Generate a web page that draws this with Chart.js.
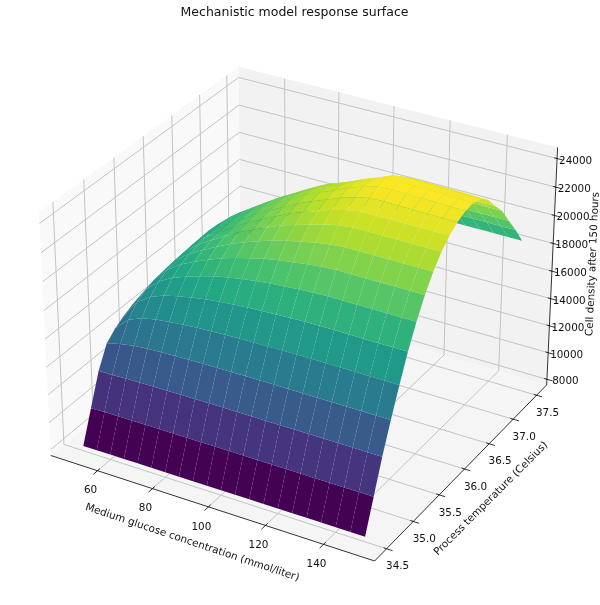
<!DOCTYPE html>
<html>
<head>
<meta charset="utf-8">
<title>Mechanistic model response surface</title>
<script src="https://cdn.jsdelivr.net/npm/chart.js@4"></script>
<style>
  html, body { margin: 0; padding: 0; background: #fff; }
  canvas { display: block; }
</style>
</head>
<body>
<canvas id="myChart" width="600" height="605"></canvas>
<script>
const glucose = [50, 55, 60, 65, 70, 75, 80, 85, 90, 95, 100, 105, 110, 115, 120, 125, 130, 135, 140, 145, 150];
const temperature = [34.5, 34.65, 34.8, 34.95, 35.1, 35.25, 35.4, 35.55, 35.7, 35.85, 36, 36.15, 36.3, 36.45, 36.6, 36.75, 36.9, 37.05, 37.2, 37.35, 37.5];
// one row per temperature, one value per glucose
const density = [
  [7930, 7940, 7950, 7950, 7950, 7950, 7950, 7950, 7950, 7950, 7950, 7950, 7950, 7950, 7950, 7950, 7950, 7950, 7950, 7950, 7950],
  [10160, 10200, 10210, 10215, 10220, 10220, 10220, 10220, 10220, 10220, 10220, 10220, 10220, 10220, 10220, 10220, 10220, 10220, 10220, 10220, 10220],
  [12360, 12355, 12410, 12433, 12445, 12455, 12465, 12470, 12475, 12478, 12480, 12480, 12480, 12480, 12480, 12480, 12480, 12480, 12480, 12480, 12480],
  [13830, 14070, 14250, 14335, 14380, 14415, 14440, 14460, 14475, 14485, 14495, 14500, 14505, 14510, 14510, 14510, 14510, 14510, 14510, 14510, 14510],
  [14400, 15300, 15710, 15915, 16030, 16125, 16200, 16250, 16295, 16325, 16350, 16365, 16385, 16395, 16400, 16400, 16400, 16400, 16400, 16400, 16400],
  [14800, 16050, 16730, 17110, 17350, 17545, 17705, 17825, 17915, 18000, 18050, 18095, 18135, 18165, 18180, 18180, 18180, 18180, 18180, 18180, 18180],
  [15100, 16450, 17335, 17875, 18240, 18555, 18830, 19030, 19205, 19355, 19460, 19545, 19630, 19685, 19720, 19720, 19720, 19720, 19720, 19720, 19720],
  [15330, 16665, 17685, 18340, 18805, 19225, 19620, 19910, 20180, 20420, 20590, 20735, 20880, 20980, 21040, 21040, 21040, 21040, 21040, 21040, 21040],
  [15500, 16765, 17870, 18610, 19150, 19660, 20140, 20525, 20880, 21210, 21460, 21665, 21880, 22035, 22130, 22130, 22130, 22130, 22130, 22130, 22130],
  [15630, 16845, 17975, 18765, 19360, 19920, 20485, 20930, 21360, 21770, 22085, 22360, 22655, 22870, 23000, 23000, 23000, 23000, 23000, 23000, 23000],
  [15730, 16853, 18040, 18870, 19480, 20090, 20680, 21175, 21660, 22130, 22505, 22830, 23190, 23455, 23620, 23620, 23620, 23620, 23620, 23620, 23620],
  [15830, 16885, 18075, 18910, 19545, 20180, 20805, 21330, 21855, 22365, 22780, 23150, 23555, 23865, 24080, 24120, 24100, 24090, 24080, 24070, 24060],
  [15900, 16900, 18100, 18950, 19590, 20240, 20880, 21430, 21965, 22515, 22950, 23345, 23785, 24125, 24400, 24470, 24440, 24420, 24390, 24360, 24340],
  [15950, 16880, 18050, 18900, 19540, 20180, 20820, 21370, 21920, 22450, 22880, 23280, 23730, 24100, 24480, 24550, 24520, 24500, 24470, 24440, 24420],
  [15960, 16780, 17900, 18700, 19350, 19990, 20620, 21160, 21720, 22250, 22660, 23050, 23480, 23850, 24260, 24330, 24300, 24280, 24250, 24220, 24200],
  [15900, 16700, 17650, 18435, 19080, 19680, 20280, 20840, 21390, 21900, 22260, 22640, 23000, 23380, 23750, 23820, 23790, 23770, 23740, 23715, 23700],
  [15400, 16200, 17150, 17930, 18580, 19180, 19780, 20340, 20890, 21400, 21760, 22140, 22500, 22700, 22860, 22900, 22880, 22860, 22850, 22830, 22820],
  [14900, 15700, 16650, 17430, 18080, 18680, 19280, 19840, 20390, 20900, 21260, 21560, 21770, 21920, 22040, 22060, 22050, 22040, 22030, 22020, 22010],
  [14400, 15200, 16150, 16900, 17500, 18100, 18700, 19200, 19600, 19950, 20250, 20500, 20680, 20790, 20850, 20860, 20860, 20850, 20850, 20840, 20840],
  [13900, 14700, 15600, 16300, 16850, 17400, 17950, 18400, 18750, 19050, 19300, 19480, 19620, 19700, 19730, 19730, 19730, 19730, 19730, 19730, 19730],
  [13400, 14100, 14950, 15600, 16100, 16600, 17050, 17450, 17750, 17950, 18120, 18270, 18380, 18450, 18490, 18490, 18490, 18490, 18490, 18490, 18490]
];
const xTicks = [60, 80, 100, 120, 140];
const yTicks = [34.5, 35, 35.5, 36, 36.5, 37, 37.5];
const yTickLabels = ['34.5', '35.0', '35.5', '36.0', '36.5', '37.0', '37.5'];
const zTicks = [8000, 10000, 12000, 14000, 16000, 18000, 20000, 22000, 24000];
const viridis = ['#440154', '#482475', '#414487', '#355f8d', '#2a788e', '#21918c', '#22a884', '#44bf70', '#7ad151', '#bddf26', '#fde725'];

// axis limits of the 3d box
const xLim = [42.7, 157.3];
const yLim = [34.28, 37.72];
const zLim = [7580, 24775];

// same camera as a default mplot3d axes: elev 30, azim -60, dist 10, box 4:4:3
const boxX = 0.5952, boxY = 0.5952, boxZ = 0.4464;
function project(x, y, z) {
  const dx = boxX * (2 * (x - xLim[0]) / (xLim[1] - xLim[0]) - 1);
  const dy = boxY * (2 * (y - yLim[0]) / (yLim[1] - yLim[0]) - 1);
  const dz = boxZ * (2 * (z - zLim[0]) / (zLim[1] - zLim[0]) - 1);
  const near = 0.433 * dx - 0.75 * dy + 0.5 * dz;
  return {
    x: (0.866 * dx + 0.5 * dy) / (10 - near),
    y: (-0.25 * dx + 0.433 * dy + 0.866 * dz) / (10 - near),
    near: near
  };
}

function viridisAt(t) {
  const p = Math.min(Math.max(t, 0), 1) * (viridis.length - 1);
  const k = Math.min(Math.floor(p), viridis.length - 2);
  const a = parseInt(viridis[k].slice(1), 16), b = parseInt(viridis[k + 1].slice(1), 16);
  const mix = s => Math.round(((a >> s) & 255) * (1 + k - p) + ((b >> s) & 255) * (p - k));
  return `rgb(${mix(16)},${mix(8)},${mix(0)})`;
}

function lineSet(points, color, width) {
  return {
    data: points.map(p => project(p[0], p[1], p[2])),
    showLine: true, fill: false, borderColor: color, borderWidth: width,
    pointRadius: 0, tension: 0, borderCapStyle: 'butt'
  };
}
function shapeSet(points, color) {
  return {
    data: points.map(p => project(p[0], p[1], p[2])),
    showLine: true, fill: 'shape', backgroundColor: color, borderWidth: 0,
    pointRadius: 0, tension: 0
  };
}

// surface cells, coloured by their mean height
const cells = [];
for (let j = 0; j < temperature.length - 1; j++) {
  for (let i = 0; i < glucose.length - 1; i++) {
    const corners = [
      [glucose[i], temperature[j], density[j][i]],
      [glucose[i + 1], temperature[j], density[j][i + 1]],
      [glucose[i + 1], temperature[j + 1], density[j + 1][i + 1]],
      [glucose[i], temperature[j + 1], density[j + 1][i]]
    ];
    const mean = corners.reduce((s, c) => s + c[2], 0) / 4;
    const near = corners.reduce((s, c) => s + project(c[0], c[1], c[2]).near, 0) / 4;
    cells.push({corners, mean, near});
  }
}
const cellMin = Math.min(...cells.map(c => c.mean));
const cellMax = Math.max(...cells.map(c => c.mean));
// first dataset is painted last, so nearest cells go first
cells.sort((a, b) => b.near - a.near);
const surfaceSets = cells.map(c => shapeSet(c.corners, viridisAt((c.mean - cellMin) / (cellMax - cellMin))));

// axis lines and ticks
const axisColor = '#000';
const gridColor = '#c4c4c4';
const frameSets = [
  lineSet([[xLim[0], yLim[0], zLim[0]], [xLim[1], yLim[0], zLim[0]]], axisColor, 0.8),
  lineSet([[xLim[1], yLim[0], zLim[0]], [xLim[1], yLim[1], zLim[0]]], axisColor, 0.8),
  lineSet([[xLim[1], yLim[1], zLim[0]], [xLim[1], yLim[1], zLim[1]]], axisColor, 0.8)
];
xTicks.forEach(x => frameSets.push(lineSet([[x, yLim[0] - 0.07, zLim[0]], [x, yLim[0] + 0.04, zLim[0]]], axisColor, 0.8)));
yTicks.forEach(y => frameSets.push(lineSet([[xLim[1] - 1, y, zLim[0]], [xLim[1] + 2, y, zLim[0]]], axisColor, 0.8)));
zTicks.forEach(z => frameSets.push(lineSet([[xLim[1] - 1, yLim[1], z], [xLim[1] + 2, yLim[1], z]], axisColor, 0.8)));

const gridSets = [];
xTicks.forEach(x => gridSets.push(lineSet([[x, yLim[0], zLim[0]], [x, yLim[1], zLim[0]], [x, yLim[1], zLim[1]]], gridColor, 1)));
yTicks.forEach(y => gridSets.push(lineSet([[xLim[1], y, zLim[0]], [xLim[0], y, zLim[0]], [xLim[0], y, zLim[1]]], gridColor, 1)));
zTicks.forEach(z => gridSets.push(lineSet([[xLim[0], yLim[0], z], [xLim[0], yLim[1], z], [xLim[1], yLim[1], z]], gridColor, 1)));

const paneSets = [
  shapeSet([[xLim[0], yLim[0], zLim[0]], [xLim[0], yLim[1], zLim[0]], [xLim[0], yLim[1], zLim[1]], [xLim[0], yLim[0], zLim[1]]], '#f9f9f9'),
  shapeSet([[xLim[0], yLim[1], zLim[0]], [xLim[1], yLim[1], zLim[0]], [xLim[1], yLim[1], zLim[1]], [xLim[0], yLim[1], zLim[1]]], '#f2f2f2'),
  shapeSet([[xLim[0], yLim[0], zLim[0]], [xLim[1], yLim[0], zLim[0]], [xLim[1], yLim[1], zLim[0]], [xLim[0], yLim[1], zLim[0]]], '#f5f5f5')
];

const textPlugin = {
  id: 'axisText',
  afterDatasetsDraw(chart) {
    const ctx = chart.ctx, sx = chart.scales.x, sy = chart.scales.y;
    const put = (str, px, py, deg, size) => {
      ctx.save();
      ctx.translate(px, py);
      ctx.rotate(deg * Math.PI / 180);
      ctx.font = size + 'px "DejaVu Sans"';
      ctx.fillStyle = '#111';
      ctx.textAlign = 'center';
      ctx.textBaseline = 'middle';
      ctx.fillText(str, 0, 0);
      ctx.restore();
    };
    const at = (x, y, z) => {
      const p = project(x, y, z);
      return [sx.getPixelForValue(p.x), sy.getPixelForValue(p.y)];
    };
    xTicks.forEach(x => {
      const p = at(x, yLim[0], zLim[0]);
      put(String(x), p[0] - 7, p[1] + 20, 0, 10.4);
    });
    yTicks.forEach((y, k) => {
      const p = at(xLim[1], y, zLim[0]);
      put(yTickLabels[k], p[0] + 11, p[1] + 18, 0, 10.4);
    });
    zTicks.forEach(z => {
      const p = at(xLim[1], yLim[1], z);
      put(String(z), p[0] + 18.5, p[1] + 2.3, 0, 10.4);
    });
    put('Mechanistic model response surface', 294.5, 12.3, 0, 12.5);
    put('Medium glucose concentration (mmol/liter)', 192.2, 542.7, 18.5, 10.4);
    put('Process temperature (Celsius)', 491, 498.7, -45, 10.4);
    put('Cell density after 150 hours', 592.8, 264, -87.5, 10.4);
  }
};

const myChart = new Chart(document.getElementById('myChart'), {
  type: 'scatter',
  data: {datasets: surfaceSets.concat(frameSets, gridSets, paneSets)},
  options: {
    responsive: false,
    animation: false,
    events: [],
    layout: {padding: 0},
    plugins: {legend: {display: false}, tooltip: {enabled: false}},
    scales: {
      x: {type: 'linear', display: false, min: -0.09731, max: 0.09519},
      y: {type: 'linear', display: false, min: -0.09747, max: 0.09713}
    }
  },
  plugins: [textPlugin]
});
</script>
</body>
</html>
